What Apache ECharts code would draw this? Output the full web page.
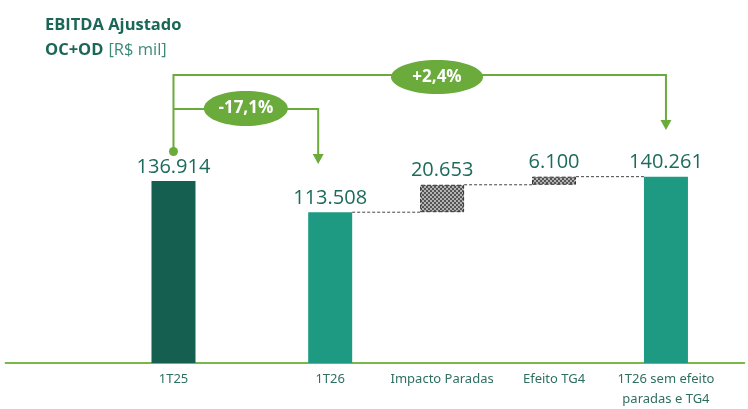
<!DOCTYPE html>
<html>
<head>
<meta charset="utf-8">
<script src="https://cdn.jsdelivr.net/npm/echarts@6/dist/echarts.min.js"></script>
<style>
  html, body { margin: 0; padding: 0; background: #fff; }
  #chart { width: 748px; height: 409px; }
</style>
</head>
<body>
<div id="chart"></div>
<script>
const categories = ['1T25', '1T26', 'Impacto Paradas', 'Efeito TG4', '1T26 sem efeito\nparadas e TG4'];
const values = [136914, 113508, 20653, 6100, 140261];
const isDelta = [false, false, true, true, false];

// layout: which slot of the category axis each bar sits in
const slotIndex = [7, 14, 19, 24, 29];
const SLOT_COUNT = 33;
const BAR_W = 44;

const green = '#6aab3c';
const labelColor = '#1d6b5c';

// checkered fill for the delta bars
const patternCanvas = document.createElement('canvas');
patternCanvas.width = 4;
patternCanvas.height = 4;
const pctx = patternCanvas.getContext('2d');
pctx.fillStyle = '#b3b3b3';
pctx.fillRect(0, 0, 4, 4);
pctx.fillStyle = '#555555';
pctx.fillRect(0, 0, 2, 2);
pctx.fillRect(2, 2, 2, 2);

const barColors = ['#155f50', '#1f9a82', null, null, '#1f9a82'];

// waterfall bases and running levels
const base = [];
const levelAfter = [];
let running = 0;
values.forEach((v, i) => {
  if (isDelta[i]) {
    base.push(running);
    running += v;
  } else {
    base.push(0);
    running = v;
  }
  levelAfter.push(running);
});

const fmt = (v) => String(v).replace(/\B(?=(\d{3})+(?!\d))/g, '.');

const axisData = new Array(SLOT_COUNT).fill('');
const baseData = new Array(SLOT_COUNT).fill('-');
const valueData = new Array(SLOT_COUNT).fill('-');
categories.forEach((c, i) => {
  const s = slotIndex[i];
  axisData[s] = c;
  baseData[s] = base[i];
  valueData[s] = {
    value: values[i],
    itemStyle: isDelta[i]
      ? {
          color: { image: patternCanvas, repeat: 'repeat' },
          borderColor: '#333',
          borderWidth: 1,
          borderType: 'dashed',
        }
      : { color: barColors[i] },
  };
});

const connectors = [];
for (let i = 1; i < categories.length - 1; i++) {
  connectors.push([slotIndex[i], slotIndex[i + 1], levelAfter[i]]);
}

const chart = echarts.init(document.getElementById('chart'));

chart.setOption({
  animation: false,
  grid: { left: 5.6, right: 3.7, top: 97.3, bottom: 44.5 },
  title: {
    left: 40,
    top: 8,
    text: '{b|EBITDA Ajustado}\n{b|OC+OD} {n|[R$ mil]}',
    textStyle: {
      rich: {
        b: { fontFamily: 'Open Sans', fontWeight: 'bold', fontSize: 16.5, color: '#1b6757', lineHeight: 25 },
        n: { fontFamily: 'Open Sans', fontWeight: 'normal', fontSize: 16.5, color: '#3d8a79', lineHeight: 25 },
      },
    },
  },
  xAxis: {
    type: 'category',
    data: axisData,
    axisLine: { lineStyle: { color: '#7ab648', width: 2 } },
    axisTick: { show: false },
    axisLabel: {
      interval: 0,
      color: '#2f6f61',
      fontFamily: 'Noto Sans',
      fontSize: 13,
      lineHeight: 20,
      margin: 6,
    },
  },
  yAxis: { type: 'value', show: false, min: 0, max: 200000 },
  series: [
    {
      name: 'base',
      type: 'bar',
      stack: 'w',
      barWidth: BAR_W,
      itemStyle: { color: 'transparent' },
      data: baseData,
      silent: true,
    },
    {
      name: 'valor',
      type: 'bar',
      stack: 'w',
      barWidth: BAR_W,
      data: valueData,
      label: {
        show: true,
        position: 'top',
        distance: 4,
        fontFamily: 'Open Sans',
        fontSize: 20,
        color: labelColor,
        formatter: (p) => fmt(p.value),
      },
    },
    {
      name: 'ligacao',
      type: 'custom',
      encode: { x: [0, 1], y: 2 },
      data: connectors,
      z: 5,
      renderItem: (params, api) => {
        const a = api.coord([api.value(0), api.value(2)]);
        const b = api.coord([api.value(1), api.value(2)]);
        return {
          type: 'line',
          shape: { x1: a[0] + BAR_W / 2, y1: a[1], x2: b[0] - BAR_W / 2, y2: b[1] },
          style: { stroke: '#444', lineWidth: 1, lineDash: [3, 2] },
        };
      },
    },
  ],
});

// green annotation brackets, placed from the bar positions
const px = (i) => chart.convertToPixel({ xAxisIndex: 0 }, slotIndex[i]);
const x0 = px(0);
const x1 = px(1) - 12;
const x4 = px(4);
const pct = (a, b) => {
  const r = ((b / a - 1) * 100).toFixed(1).replace('.', ',');
  return (b >= a ? '+' : '') + r + '%';
};

const lineStyle = { stroke: green, lineWidth: 2, fill: null };
const arrow = (x, tip) => ({
  type: 'polygon',
  shape: { points: [[x - 5.5, tip - 10], [x + 5.5, tip - 10], [x, tip]] },
  style: { fill: green },
});
const oval = (cx, cy, rx, ry, text) => [
  { type: 'ellipse', shape: { cx, cy, rx, ry }, style: { fill: green }, z: 10 },
  {
    type: 'text',
    x: cx,
    y: cy,
    z: 11,
    style: {
      text,
      fill: '#fff',
      font: 'bold 17px "Open Sans"',
      align: 'center',
      verticalAlign: 'middle',
    },
  },
];

chart.setOption({
  graphic: [
    { type: 'polyline', shape: { points: [[x0, 151], [x0, 75], [x4, 75], [x4, 121]] }, style: lineStyle },
    { type: 'polyline', shape: { points: [[x0, 109], [x1, 109], [x1, 155]] }, style: lineStyle },
    { type: 'circle', shape: { cx: x0, cy: 151.5, r: 4.5 }, style: { fill: green } },
    arrow(x4, 130),
    arrow(x1, 164),
    ...oval((x0 + x1) / 2, 108.5, 42, 17.5, pct(values[0], values[1])),
    ...oval(437, 77, 46, 17, pct(values[0], values[4])),
  ],
});
</script>
</body>
</html>
